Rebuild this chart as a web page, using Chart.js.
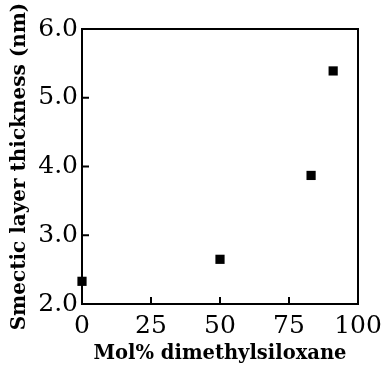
<!DOCTYPE html>
<html>
<head>
<meta charset="utf-8">
<script src="https://cdn.jsdelivr.net/npm/chart.js@4"></script>
<style>
    html, body { margin: 0; padding: 0; background: #fff; }
    #wrap { width: 390px; height: 368px; position: relative; }
</style>
</head>
<body>
<div id="wrap"><canvas id="chart"></canvas></div>
<script>
// Data
const molPercent = [0, 50, 83, 91];
const layerThickness = [2.33, 2.65, 3.87, 5.39];
const xTickValues = [0, 25, 50, 75, 100];
const yTickValues = [2.0, 3.0, 4.0, 5.0, 6.0];

const FONT = "'DejaVu Serif', 'Liberation Serif', serif";

// Box around the plot plus inward tick marks
const frameAndTicks = {
    id: 'frameAndTicks',
    afterDatasetsDraw(chart) {
        const ctx = chart.ctx;
        const area = chart.chartArea;
        const xs = chart.scales.x;
        const ys = chart.scales.y;
        ctx.save();
        ctx.strokeStyle = '#000';
        ctx.lineWidth = 2;
        ctx.strokeRect(area.left, area.top, area.right - area.left, area.bottom - area.top);
        ctx.beginPath();
        xTickValues.slice(1, -1).forEach(v => {
            const px = xs.getPixelForValue(v);
            ctx.moveTo(px, area.bottom);
            ctx.lineTo(px, area.bottom - 7);
        });
        yTickValues.slice(1, -1).forEach(v => {
            const py = ys.getPixelForValue(v);
            ctx.moveTo(area.left, py);
            ctx.lineTo(area.left + 7, py);
        });
        ctx.stroke();
        ctx.restore();
    }
};

const points = molPercent.map((x, i) => ({ x: x, y: layerThickness[i] }));

new Chart(document.getElementById('chart'), {
    type: 'scatter',
    data: {
        datasets: [{
            data: points,
            pointStyle: 'rect',
            pointRadius: 6.5,
            pointHoverRadius: 6.5,
            backgroundColor: '#000',
            borderColor: '#000',
            borderWidth: 0,
            clip: false
        }]
    },
    options: {
        responsive: true,
        maintainAspectRatio: false,
        animation: false,
        layout: { padding: { top: 29, right: 32, left: 8, bottom: 2 } },
        plugins: {
            legend: { display: false },
            tooltip: { enabled: false }
        },
        scales: {
            x: {
                type: 'linear',
                min: 0,
                max: 100,
                afterBuildTicks: scale => { scale.ticks = xTickValues.map(v => ({ value: v })); },
                grid: { display: false, drawTicks: false },
                border: { display: false },
                ticks: {
                    color: '#000',
                    padding: 7,
                    maxRotation: 0,
                    font: { family: FONT, size: 25 }
                },
                title: {
                    display: true,
                    text: 'Mol% dimethylsiloxane',
                    color: '#000',
                    padding: { top: 4, bottom: 0 },
                    font: { family: FONT, size: 19.5, weight: 'bold' }
                },
                afterFit: scale => { scale.height = 62; }
            },
            y: {
                type: 'linear',
                min: 2,
                max: 6,
                afterBuildTicks: scale => { scale.ticks = yTickValues.map(v => ({ value: v })); },
                grid: { display: false, drawTicks: false },
                border: { display: false },
                ticks: {
                    color: '#000',
                    padding: 4,
                    font: { family: FONT, size: 25 },
                    callback: v => Number(v).toFixed(1)
                },
                title: {
                    display: true,
                    text: 'Smectic layer thickness (nm)',
                    color: '#000',
                    padding: { top: 0, bottom: 6 },
                    font: { family: FONT, size: 20, weight: 'bold' }
                },
                afterFit: scale => { scale.width = 74; }
            }
        }
    },
    plugins: [frameAndTicks]
});
</script>
</body>
</html>
